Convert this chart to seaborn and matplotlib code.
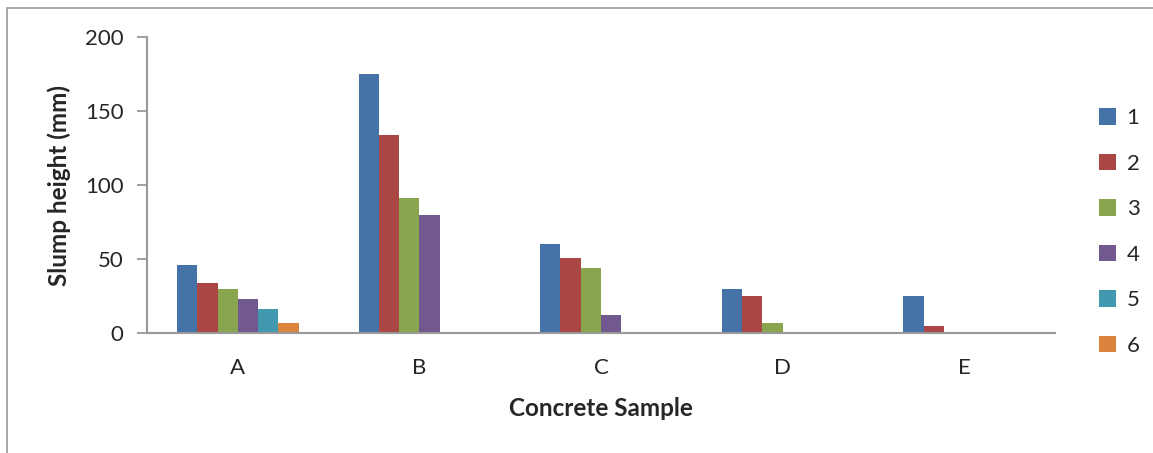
import matplotlib
matplotlib.use("Agg")
import matplotlib.pyplot as plt
import seaborn as sns
import pandas as pd
from matplotlib.patches import Rectangle

categories = ["A", "B", "C", "D", "E"]
series = ["1", "2", "3", "4", "5", "6"]
s1 = [46, 175, 60, 30, 25]
s2 = [34, 134, 51, 25, 5]
s3 = [30, 91, 44, 7, 0]
s4 = [23, 80, 12, 0, 0]
s5 = [16, 0, 0, 0, 0]
s6 = [7, 0, 0, 0, 0]
colors = ["#4572A7", "#AA4643", "#89A54E", "#71588F", "#4198AF", "#DB843D"]

rows = []
for name, vals in zip(series, [s1, s2, s3, s4, s5, s6]):
    for c, v in zip(categories, vals):
        rows.append({"Sample": c, "Series": name, "Value": v})
df = pd.DataFrame(rows)

sns.set_theme(style="white")
plt.rcParams['font.family'] = ['Lato', 'DejaVu Sans']

fig = plt.figure(figsize=(11.53, 4.53), dpi=100)
ax = fig.add_axes([147/1153, 1-333/453, (1055-147)/1153, (333-37)/453])

sns.barplot(data=df, x="Sample", y="Value", hue="Series", order=categories,
            hue_order=series, palette=colors, width=0.67, gap=0,
            linewidth=0, saturation=1, ax=ax, errorbar=None)

ax.set_ylim(0, 200)
ax.set_yticks([0, 50, 100, 150, 200])
ax.set_xlim(-0.5, 4.5)
ax.tick_params(axis='y', labelsize=16, length=7, width=1.3, color="#999999",
               direction='out', left=True, pad=10)
ax.tick_params(axis='x', labelsize=16, length=0, pad=18)
for s in ["top", "right"]:
    ax.spines[s].set_visible(False)
for s in ["left", "bottom"]:
    ax.spines[s].set_color("#999999")
    ax.spines[s].set_linewidth(1.5)

ax.set_ylabel("Slump height (mm)", fontsize=17.5, fontweight="bold", labelpad=10)
ax.set_xlabel("Concrete Sample", fontsize=17.5, fontweight="bold", labelpad=14)

leg = ax.legend(loc="center left", bbox_to_anchor=(1090/1153, 1 - 232/453),
                bbox_transform=fig.transFigure, frameon=False, fontsize=16,
                handlelength=0.75, handleheight=0.75, handletextpad=0.5,
                labelspacing=1.15, borderaxespad=0)

fig.patches.append(Rectangle((7/1153, -0.1), 1.2, 1.1 - 8/453,
                             transform=fig.transFigure, fill=False,
                             edgecolor="#999999", linewidth=1.2))

fig.savefig("out.png", dpi=100)
